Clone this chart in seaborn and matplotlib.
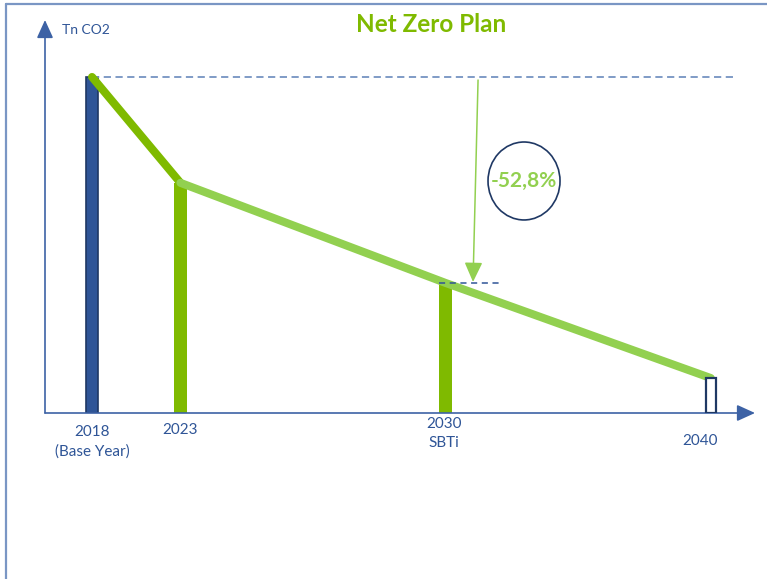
import numpy as np
import pandas as pd
import seaborn as sns
from matplotlib import pyplot as plt
from matplotlib.lines import Line2D
from matplotlib.patches import Ellipse

# chart data (emissions, base year = 100)
years = ["2018", "2023", "2030", "2040"]
tick_labels = ["2018\n(Base Year)", "2023", "2030\nSBTi", "2040"]
slots = [0, 1, 4, 7]          # horizontal slot of each milestone
emissions = [100, 68.5, 38.7, 10.4]
reduction_label = "-52,8%"

bar_colors = {"2018": "#2F5597", "2023": "#7FBA00", "2030": "#7FBA00", "2040": "#FFFFFF"}
label_drop = [9, 7, 3, 15]    # points below the axis for each label
label_shift = [0, 0, -1, -8]  # points sideways

sns.set_theme(style="white")
plt.rcParams["font.family"] = ["Lato", "DejaVu Sans"]

df = pd.DataFrame({"year": years, "slot": slots, "tn_co2": emissions})

fig = plt.figure(figsize=(7.67, 5.79), dpi=100)
ax = fig.add_axes([45 / 767, 166 / 579, 710 / 767, 393 / 579])

sns.barplot(df, x="slot", y="tn_co2", hue="year", palette=bar_colors,
            native_scale=True, dodge=False, width=0.145, legend=False,
            saturation=1, ax=ax)
for patch, yr in zip(ax.patches, years):
    if yr == "2018":
        patch.set_edgecolor("#1F3864")
        patch.set_linewidth(1.2)
    elif yr == "2040":
        patch.set_edgecolor("#1F3864")
        patch.set_linewidth(1.6)
        patch.set_zorder(5)
        x0 = patch.get_x() + patch.get_width() / 2
        patch.set_width(0.11)
        patch.set_x(x0 - 0.055)
    else:
        patch.set_linewidth(0)

# trajectory line
sns.lineplot(df.iloc[:2], x="slot", y="tn_co2", color="#7FBA00",
             linewidth=5.8, ax=ax, zorder=4)
sns.lineplot(df.iloc[1:], x="slot", y="tn_co2", color="#92D050",
             linewidth=5.8, ax=ax, zorder=4)

# reference dashes
ax.hlines(emissions[0], slots[0], 7.27, colors="#7593C2", linewidth=1.3,
          linestyles=(0, (4, 2.5)), zorder=2)
ax.hlines(emissions[2], slots[2] - 0.07, slots[2] + 0.64, colors="#2F5597",
          linewidth=1.1, linestyles=(0, (4, 3)), zorder=5)

# reduction arrow + bubble
ax.annotate("", xy=(4.31, emissions[2] + 0.3), xytext=(4.367, emissions[0] - 0.9),
            arrowprops=dict(arrowstyle="-|>,head_length=1.2,head_width=0.55",
                            mutation_scale=10, color="#92D050", lw=1.1,
                            shrinkA=0, shrinkB=0), zorder=6)
ax.add_patch(Ellipse((4.887, 69.05), 0.8145, 23.2, facecolor="none",
                     edgecolor="#1F3864", linewidth=1.2, zorder=6))
ax.text(4.887, 69.05, reduction_label, ha="center", va="center",
        fontsize=15, fontweight="bold", color="#92D050", zorder=7)

ax.set_xlim(-0.532, 7.5)
ax.set_ylim(0, 116.96)
ax.set_xticks([])
ax.set_yticks([])
ax.set_xlabel("")
ax.set_ylabel("")
sns.despine(ax=ax, left=True, bottom=True)

# axis arrows
arrow_kw = dict(arrowstyle="-|>,head_length=1.1,head_width=0.5", mutation_scale=10,
                color="#3D62A5", lw=1.2, shrinkA=0, shrinkB=0)
ax.annotate("", xy=(0, 1), xytext=(0, 0), xycoords="axes fraction", arrowprops=arrow_kw)
ax.annotate("", xy=(1, 0), xytext=(0, 0), xycoords="axes fraction", arrowprops=arrow_kw)

for s, lab, drop, dx in zip(slots, tick_labels, label_drop, label_shift):
    ax.annotate(lab, xy=(s, 0), xytext=(dx, -drop), textcoords="offset points",
                ha="center", va="top", fontsize=11, color="#2F5597",
                linespacing=1.4, annotation_clip=False)

fig.text(431 / 767, 1 - 25 / 579, "Net Zero Plan", ha="center", va="center",
         fontsize=17.5, fontweight="bold", color="#7FBA00")
fig.text(62 / 767, 1 - 30 / 579, "Tn CO2", ha="left", va="center",
         fontsize=10, color="#2F5597")

# slide frame
fig.add_artist(Line2D([5.5 / 767] * 2, [0, 1 - 3.5 / 579], transform=fig.transFigure,
                      color="#7A96C4", linewidth=1.6))
fig.add_artist(Line2D([5.5 / 767, 1], [1 - 3.5 / 579] * 2, transform=fig.transFigure,
                      color="#7A96C4", linewidth=1.6))

fig.savefig("out.png", dpi=100)
